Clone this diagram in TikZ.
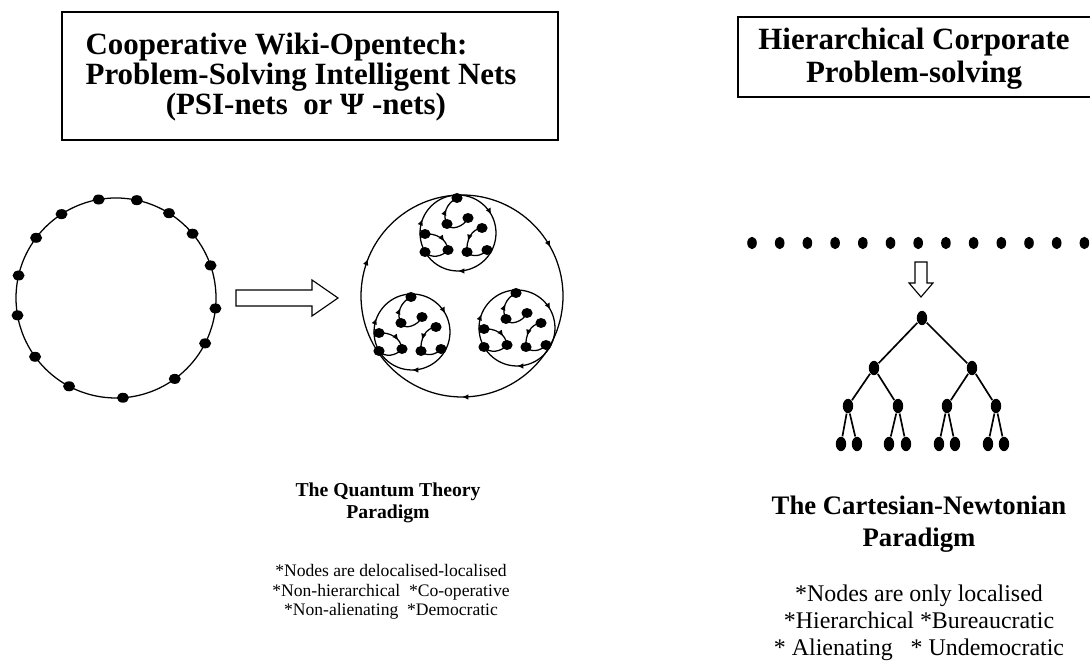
\documentclass[tikz,border=0pt]{standalone}
\usepackage{fontspec}
\setmainfont{Liberation Serif}
\usetikzlibrary{arrows.meta,decorations.markings,shapes.geometric}

\tikzset{
  smalltip/.tip={Latex[length=4.6pt,width=4pt]},
  flow/.style={postaction={decorate},decoration={markings,mark=at position #1 with {\arrow{smalltip}}}},
  ringflow/.style={postaction={decorate},decoration={markings,
      mark=at position 0.25 with {\arrow{smalltip}},
      mark=at position 0.56 with {\arrow{smalltip}},
      mark=at position 0.92 with {\arrow{smalltip}}}},
  leaf/.style={ellipse,fill=black,inner sep=0pt,minimum width=0.26cm,minimum height=0.36cm},
  boxline/.style={line width=1.2pt},
}

% one small net: a circle holding three looped sub-nets
\def\clusternet(#1,#2){%
  \begin{scope}[shift={(#1,#2)}]
    \draw[ringflow] (38,0) arc (0:-360:38);
    \coordinate (T) at (-1,35);
    \coordinate (a1) at (-11,9);  \coordinate (a2) at (10,15);
    \coordinate (b1) at (-33,-1); \coordinate (b2) at (-33,-19); \coordinate (b3) at (-10,-17);
    \coordinate (c1) at (24,5);   \coordinate (c2) at (9,-19);   \coordinate (c3) at (29,-17);
    \draw[flow=0.5] (a1) to[out=120,in=205] (T);
    \draw (a1) to[out=-70,in=-110] (a2);
    \draw[flow=0.7] (b1) to[out=5,in=95] (b3);
    \draw (b2) to[out=-50,in=-130] (b3);
    \draw[flow=0.65] (c1) to[out=185,in=95] (c2);
    \draw (c2) to[out=-50,in=-130] (c3);
    \foreach \p in {T,a1,a2,b1,b2,b3,c1,c2,c3} {\fill (\p) ellipse (5.6 and 5);}
  \end{scope}}

\begin{document}
\begin{tikzpicture}[x=0.025cm,y=0.025cm,line width=0.9pt]
  \useasboundingbox (0,0) rectangle (1090,661);
  %%%%% TITLES %%%%%

  \draw[boxline] (62,649) rectangle (558,521);
  \node[font=\fontsize{22}{21.5}\selectfont\bfseries, align=left, anchor=base west, inner sep=0pt] (coopTitle) at (85,546)
    {Cooperative Wiki-Opentech:\\Problem-Solving Intelligent Nets\\\hspace*{57pt}(PSI-nets\ \ or Ψ -nets)};

  \draw[boxline] (738,644) rectangle (1095,564);
  \node[font=\fontsize{22}{23.5}\selectfont\bfseries, align=center, anchor=base, inner sep=0pt] (corpTitle) at (914,578)
    {Hierarchical Corporate\\Problem-solving};

  %%%%% QUANTUM SIDE %%%%%

  \draw (116,363) circle (100);
  \foreach \a in {100,78,58,40,19,-6,-27,-54,-86,-118,-144,-170,167,143,123}
    \fill (116,363) ++(\a:100) ellipse (6 and 5);

  \draw[line width=0.8pt] (236,355) -- (312,355) -- (312,345) -- (338,363) -- (312,381) -- (312,371) -- (236,371) -- cycle;

  \draw[ringflow] (563,365) arc (0:-360:101);
  \clusternet(458,428)
  \clusternet(412,329)
  \clusternet(517,333)

  \node[font=\fontsize{14}{15.8}\selectfont\bfseries, align=center, anchor=base, inner sep=0pt] (quantumName) at (388,142)
    {The Quantum Theory\\Paradigm};
  \node[font=\fontsize{12.5}{14.2}\selectfont, align=center, anchor=base, inner sep=0pt] (quantumNotes) at (391,45)
    {*Nodes are delocalised-localised\\*Non-hierarchical\ \ *Co-operative\\*Non-alienating\ \ *Democratic};

  %%%%% CORPORATE SIDE %%%%%

  \foreach \i in {0,...,12}
    \fill (752+27.7*\i,418) ellipse (4.8 and 6.2);

  \draw[line width=0.8pt] (915,399) -- (915,378) -- (909,378) -- (921,364) -- (933,378) -- (927,378) -- (927,399) -- cycle;

  \node[leaf] (top) at (922,343) {};
  \node[leaf] (m1) at (874,293) {};
  \node[leaf] (m2) at (972,293) {};
  \node[leaf] (n1) at (848,255) {};
  \node[leaf] (n2) at (898,255) {};
  \node[leaf] (n3) at (947,255) {};
  \node[leaf] (n4) at (996,255) {};
  \foreach \x [count=\k] in {841,857,889,906,939,955,988,1004}
    \node[leaf] (w\k) at (\x,217) {};
  \foreach \a/\b in {top/m1,top/m2,m1/n1,m1/n2,m2/n3,m2/n4,n1/w1,n1/w2,n2/w3,n2/w4,n3/w5,n3/w6,n4/w7,n4/w8}
    \draw[line width=1.2pt] (\a) -- (\b);

  \node[font=\fontsize{19}{23}\selectfont\bfseries, align=center, anchor=base, inner sep=0pt] (cartesianName) at (919,114)
    {The Cartesian-Newtonian\\Paradigm};
  \node[font=\fontsize{17}{19.4}\selectfont, align=center, anchor=base, inner sep=0pt] (cartesianNotes) at (919,5)
    {*Nodes are only localised\\*Hierarchical *Bureaucratic\\* Alienating\ \ \ * Undemocratic};
\end{tikzpicture}
\end{document}
